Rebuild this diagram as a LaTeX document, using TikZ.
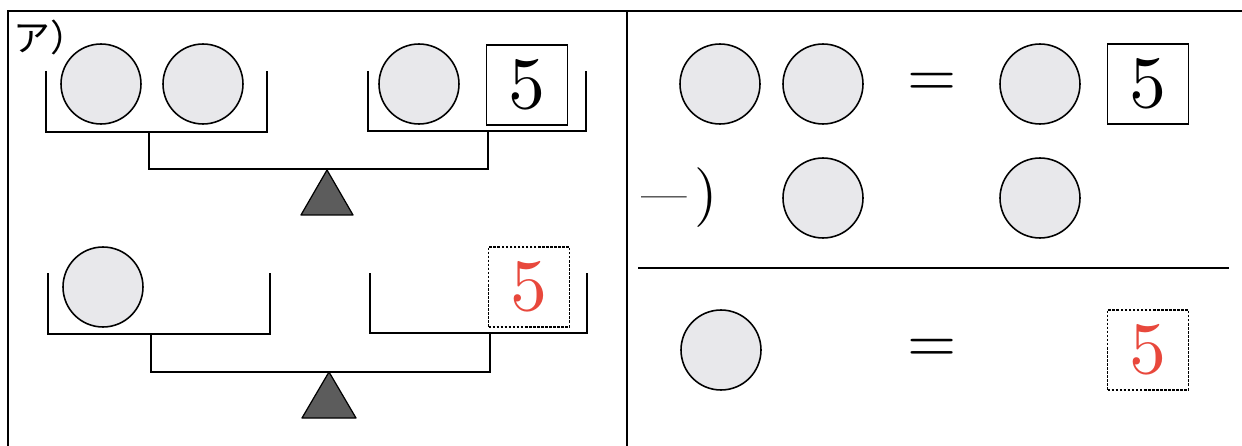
\documentclass[tikz,border=0pt]{standalone}
\usepackage{fontspec}
\usepackage{tikz}
\usepackage{xcolor}
\newfontfamily\jpfont{Noto Sans CJK JP}
\newfontfamily\numfont{lmroman10-regular}[Extension=.otf]
\definecolor{coingray}{RGB}{232,232,235}
\definecolor{fulcrumgray}{RGB}{92,92,92}
\definecolor{answerred}{RGB}{232,72,60}

\begin{document}
\begin{tikzpicture}[x=0.02cm, y=-0.02cm, line width=0.8pt,
  coin/.style={circle, draw, fill=coingray, minimum size=1.6cm, inner sep=0pt, line width=0.9pt},
  numbox/.style={draw, minimum width=1.62cm, minimum height=1.6cm, inner sep=0pt, line width=0.6pt, font=\numfont\fontsize{42}{42}\selectfont},
  ansbox/.style={numbox, dash pattern=on 1.5pt off 0.8pt, text=answerred},
  eqsign/.style={font=\numfont\fontsize{36}{36}\selectfont},
  fulcrum/.style={draw, fill=fulcrumgray, line width=0.7pt, line join=round}]
\useasboundingbox (0,0) rectangle (1242,446);
% frame and divider
\draw[line width=1pt] (8,446) -- (8,11) -- (1242,11); \draw[line width=1pt] (627,11) -- (627,446);
\node[font=\jpfont\fontsize{21}{21}\selectfont, anchor=west, inner sep=0pt] (lbl) at (13,37) {ア）};
% upper balance
\node[coin] (A1) at (101,84) {}; \node[coin] (A2) at (203,84) {};
\node[coin] (A3) at (419,84) {}; \node[numbox] (A4) at (527,85) {5};
\draw (46,71) |- (267,132) -- (267,71); \draw (368,71) |- (586,131) -- (586,71);
\draw (149,132) |- (488,169) -- (488,131);
\draw[fulcrum] (327,170) -- (353,215) -- (301,215) -- cycle;
% lower balance
\node[coin] (B1) at (103,287) {}; \node[ansbox] (B2) at (529,287) {5};
\draw (48,273) |- (270,334) -- (270,273); \draw (370,273) |- (587,333) -- (587,273);
\draw (151,334) |- (490,372) -- (490,333);
\draw[fulcrum] (329,372) -- (356,418) -- (302,418) -- cycle;
% right side: subtraction
\node[coin] (R1) at (720,84) {}; \node[coin] (R2) at (823,84) {};
\node[eqsign] (E1) at (932,85) {=};
\node[coin] (R3) at (1040,84) {}; \node[numbox] (R4) at (1148,84) {5};
\node[font=\numfont, anchor=west, inner sep=0pt] (M) at (641,198) {\raisebox{2pt}{\fontsize{26}{26}\selectfont —}\kern4pt{\fontsize{34}{34}\selectfont )}};
\node[coin] (R5) at (823,198) {}; \node[coin] (R6) at (1040,198) {};
\draw[line width=1pt] (638,268) -- (1229,268);
\node[coin] (S1) at (721,350) {}; \node[eqsign] (E2) at (932,351) {=};
\node[ansbox] (S2) at (1148,350) {5};
\end{tikzpicture}
\end{document}
